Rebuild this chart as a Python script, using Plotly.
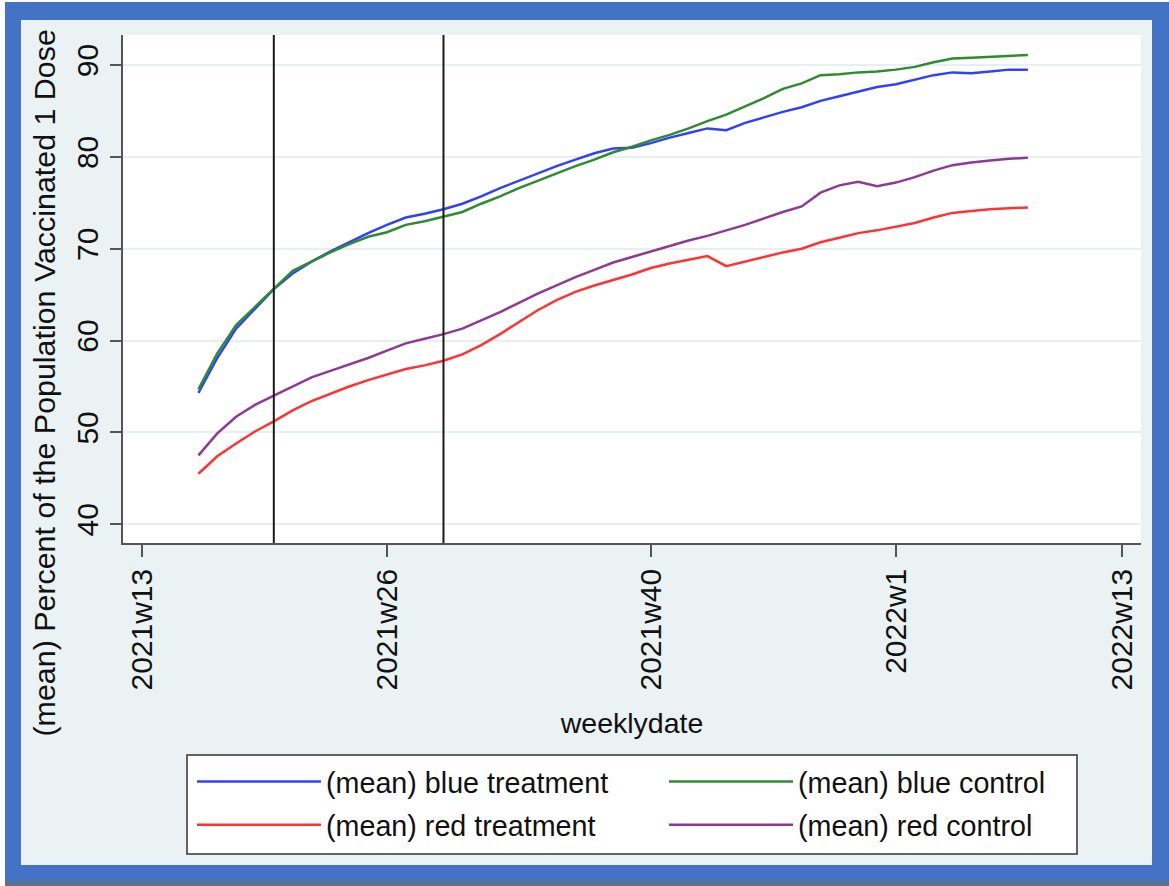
import plotly.graph_objects as go

# ---- data (Stata weekly dates: 2021w13 = 3184, 2022w1 = 3224) ----
weeks = list(range(3187, 3232))  # 2021w16 ... 2022w8

blue_treatment = [54.3, 58.1, 61.3, 63.5, 65.6, 67.3, 68.6, 69.7, 70.7, 71.7,
                  72.6, 73.4, 73.8, 74.3, 74.9, 75.7, 76.6, 77.4, 78.2, 79.0,
                  79.7, 80.4, 80.9, 81.0, 81.5, 82.1, 82.6, 83.1, 82.9, 83.7,
                  84.3, 84.9, 85.4, 86.1, 86.6, 87.1, 87.6, 87.9, 88.4, 88.9,
                  89.2, 89.1, 89.3, 89.5, 89.5]
blue_control = [54.7, 58.6, 61.7, 63.7, 65.6, 67.6, 68.6, 69.6, 70.5, 71.3,
                71.8, 72.6, 73.0, 73.5, 74.0, 74.9, 75.7, 76.6, 77.4, 78.2,
                79.0, 79.7, 80.5, 81.1, 81.8, 82.4, 83.1, 83.9, 84.6, 85.5,
                86.4, 87.4, 88.0, 88.9, 89.0, 89.2, 89.3, 89.5, 89.8, 90.3,
                90.7, 90.8, 90.9, 91.0, 91.1]
red_treatment = [45.5, 47.4, 48.8, 50.1, 51.2, 52.4, 53.4, 54.2, 55.0, 55.7,
                 56.3, 56.9, 57.3, 57.8, 58.5, 59.5, 60.7, 62.0, 63.3, 64.4,
                 65.3, 66.0, 66.6, 67.2, 67.9, 68.4, 68.8, 69.2, 68.1, 68.6,
                 69.1, 69.6, 70.0, 70.7, 71.2, 71.7, 72.0, 72.4, 72.8, 73.4,
                 73.9, 74.1, 74.3, 74.4, 74.5]
red_control = [47.5, 49.9, 51.7, 53.0, 54.0, 55.0, 56.0, 56.7, 57.4, 58.1,
               58.9, 59.7, 60.2, 60.7, 61.3, 62.2, 63.1, 64.1, 65.1, 66.0,
               66.9, 67.7, 68.5, 69.1, 69.7, 70.3, 70.9, 71.4, 72.0, 72.6,
               73.3, 74.0, 74.6, 76.1, 76.9, 77.3, 76.8, 77.2, 77.8, 78.5,
               79.1, 79.4, 79.6, 79.8, 79.9]

tick_vals = [3184, 3197, 3211, 3224, 3236]
tick_text = ["2021w13", "2021w26", "2021w40", "2022w1", "2022w13"]
y_ticks = [40, 50, 60, 70, 80, 90]
ref_weeks = [3191, 3200]  # 2021w20, 2021w29

series = [
    ("(mean) blue treatment", blue_treatment, "#3040FF", "legend"),
    ("(mean) blue control", blue_control, "#2E8B2E", "legend"),
    ("(mean) red treatment", red_treatment, "#FF3333", "legend2"),
    ("(mean) red control", red_control, "#8E3A94", "legend2"),
]

FONT = "Liberation Sans, Arial, Helvetica, sans-serif"
W, H = 1169, 886
ML, MR, MT, MB = 123, 28, 35, 343
PW, PH = W - ML - MR, H - MT - MB


def px_x(p):
    return (p - ML) / PW


def px_y(p):
    return (H - MB - p) / PH


fig = go.Figure()
for name, vals, col, lg in series:
    fig.add_trace(go.Scatter(x=weeks, y=vals, mode="lines", name=name, legend=lg,
                             line=dict(color=col, width=2.5)))

for wk in ref_weeks:
    fig.add_shape(type="line", xref="x", yref="paper", x0=wk, x1=wk, y0=0, y1=1,
                  line=dict(color="#1a1a1a", width=2), layer="above")

# picture frame around the chart
BLUE = "#4472C4"
frame = [
    (0, 0, W, 2, "white"),
    (0, 0, 5, H, "white"),
    (5, 2, W, 20, BLUE),
    (5, 2, 21, H, BLUE),
    (1152, 2, W, H, BLUE),
    (5, 865, W, H, BLUE),
    (5, 881, W, H, "#5d6f8f"),
]
for x0, y0, x1, y1, c in frame:
    fig.add_shape(type="rect", xref="paper", yref="paper",
                  x0=px_x(x0), x1=px_x(x1), y0=px_y(y0), y1=px_y(y1),
                  fillcolor=c, line=dict(width=0), layer="above")

# legend box
fig.add_shape(type="rect", xref="paper", yref="paper",
              x0=px_x(187), x1=px_x(1077), y0=px_y(755), y1=px_y(854),
              fillcolor="white", line=dict(color="#333", width=1.5), layer="above")

fig.add_annotation(text="(mean) Percent of the Population Vaccinated 1 Dose",
                   xref="paper", yref="paper", x=px_x(43), y=px_y(383.5),
                   textangle=-90, showarrow=False, xanchor="center", yanchor="middle",
                   font=dict(family=FONT, size=30.4, color="#111"))

leg_common = dict(orientation="h", xanchor="left", yanchor="top",
                  bgcolor="rgba(0,0,0,0)", borderwidth=0,
                  font=dict(family=FONT, size=28.7, color="#111"),
                  itemwidth=124, entrywidth=333, entrywidthmode="pixels",
                  traceorder="normal")

fig.update_layout(
    width=W, height=H,
    margin=dict(l=ML, r=MR, t=MT, b=MB, pad=0),
    paper_bgcolor="#EBF2F4",
    plot_bgcolor="white",
    font=dict(family=FONT, size=30, color="#111"),
    showlegend=True,
    legend=dict(x=px_x(192), y=px_y(756.3), **leg_common),
    legend2=dict(x=px_x(192), y=px_y(799.7), **leg_common),
    xaxis=dict(range=[3183, 3237], tickmode="array", tickvals=tick_vals, ticktext=tick_text,
               tickangle=-90, ticks="outside", ticklen=12, tickwidth=1.5, tickcolor="#555",
               showline=True, linecolor="#555", linewidth=1.5, showgrid=False, zeroline=False,
               tickfont=dict(size=30),
               title=dict(text="weeklydate", font=dict(size=28.5), standoff=24)),
    yaxis=dict(range=[37.96, 93.27], tickmode="array", tickvals=y_ticks,
               tickangle=-90, ticks="outside", ticklen=11, tickwidth=1.5, tickcolor="#555",
               showline=True, linecolor="#555", linewidth=1.5,
               showgrid=True, gridcolor="#E6EFF1", gridwidth=1.5, zeroline=False,
               tickfont=dict(size=30)),
)

fig.write_html("out.html", config={"displayModeBar": False},
               post_script="document.body.style.margin='0';")
